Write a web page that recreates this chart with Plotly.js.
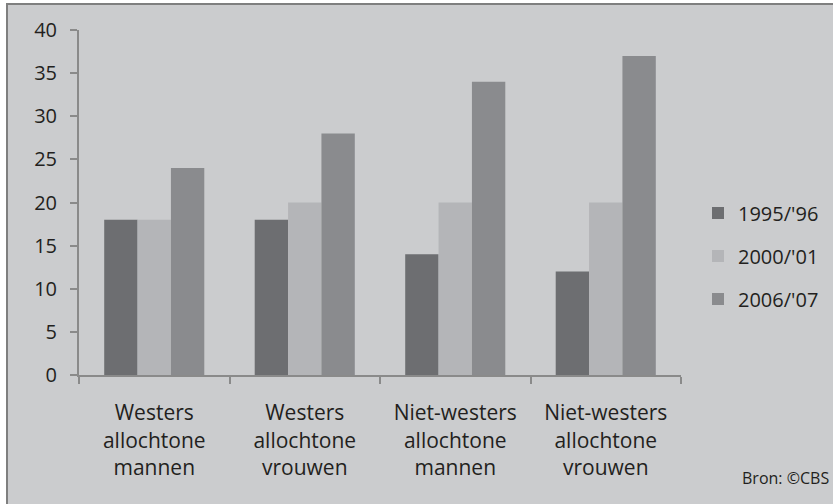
<!DOCTYPE html>
<html>
<head>
<meta charset="utf-8">
<script src="https://cdn.plot.ly/plotly-3.0.1.min.js"></script>
<style>
html,body{margin:0;padding:0;background:#ffffff;}
#chart{width:833px;height:504px;}
</style>
</head>
<body>
<div id="chart"></div>
<script>
var categories = [
  "Westers<br>allochtone<br>mannen",
  "Westers<br>allochtone<br>vrouwen",
  "Niet-westers<br>allochtone<br>mannen",
  "Niet-westers<br>allochtone<br>vrouwen"
];
var seriesNames = ["1995/'96", "2000/'01", "2006/'07"];
var values1995 = [18, 18, 14, 12];
var values2000 = [18, 20, 20, 20];
var values2006 = [24, 28, 34, 37];
var yTicks = [0, 5, 10, 15, 20, 25, 30, 35, 40];
var colors = ["#6d6e71", "#b4b5b8", "#8a8b8e"];

var allValues = [values1995, values2000, values2006];
var traces = allValues.map(function (vals, i) {
  return {
    type: "bar",
    x: categories,
    y: vals,
    name: seriesNames[i],
    legendgroup: "g" + i,
    marker: {color: colors[i], line: {width: 0}},
    hoverinfo: "y"
  };
});

var fam = "'Open Sans', Lato, sans-serif";
var font = {family: fam, size: 20, color: "#231f20"};

var layout = {
  width: 833,
  height: 504,
  margin: {l: 79, r: 152, t: 30, b: 129, autoexpand: false},
  paper_bgcolor: "#ffffff",
  plot_bgcolor: "rgba(0,0,0,0)",
  font: font,
  barmode: "group",
  bargap: 0.335,
  bargroupgap: 0,
  showlegend: true,
  legend: {
    x: (698 - 79) / 602, xanchor: "left",
    y: (375 - 256) / 345, yanchor: "middle",
    bgcolor: "rgba(0,0,0,0)",
    font: font,
    traceorder: "grouped",
    tracegroupgap: 14,
    itemwidth: 30
  },
  xaxis: {
    type: "category",
    tickson: "boundaries",
    ticks: "outside",
    ticklen: 7,
    tickcolor: "#8a8a8a",
    tickwidth: 2,
    showline: true,
    linecolor: "#8a8a8a",
    linewidth: 2,
    showgrid: false,
    zeroline: false,
    tickfont: {family: fam, size: 21, color: "#231f20"},
    ticklabelstandoff: 18,
    fixedrange: true
  },
  yaxis: {
    range: [0, 40],
    tickvals: yTicks,
    ticktext: yTicks.map(String),
    ticks: "outside",
    ticklen: 7,
    tickcolor: "#8a8a8a",
    tickwidth: 2,
    showline: true,
    linecolor: "#8a8a8a",
    linewidth: 2,
    showgrid: false,
    zeroline: false,
    tickfont: font,
    ticklabelstandoff: 9,
    fixedrange: true
  },
  shapes: [{
    type: "rect",
    xref: "paper", yref: "paper",
    x0: (7 - 79) / 602, x1: (845 - 79) / 602,
    y0: (375 - 515) / 345, y1: (375 - 4) / 345,
    fillcolor: "#cbccce",
    line: {color: "#7f7f7f", width: 2},
    layer: "below"
  }],
  annotations: [{
    text: "Bron: ©CBS",
    xref: "paper", yref: "paper",
    x: (831 - 79) / 602, xanchor: "right",
    y: (375 - 478) / 345, yanchor: "middle",
    showarrow: false,
    font: {family: fam, size: 16, color: "#231f20"}
  }]
};

Plotly.newPlot("chart", traces, layout, {displayModeBar: false, staticPlot: true});
</script>
</body>
</html>
